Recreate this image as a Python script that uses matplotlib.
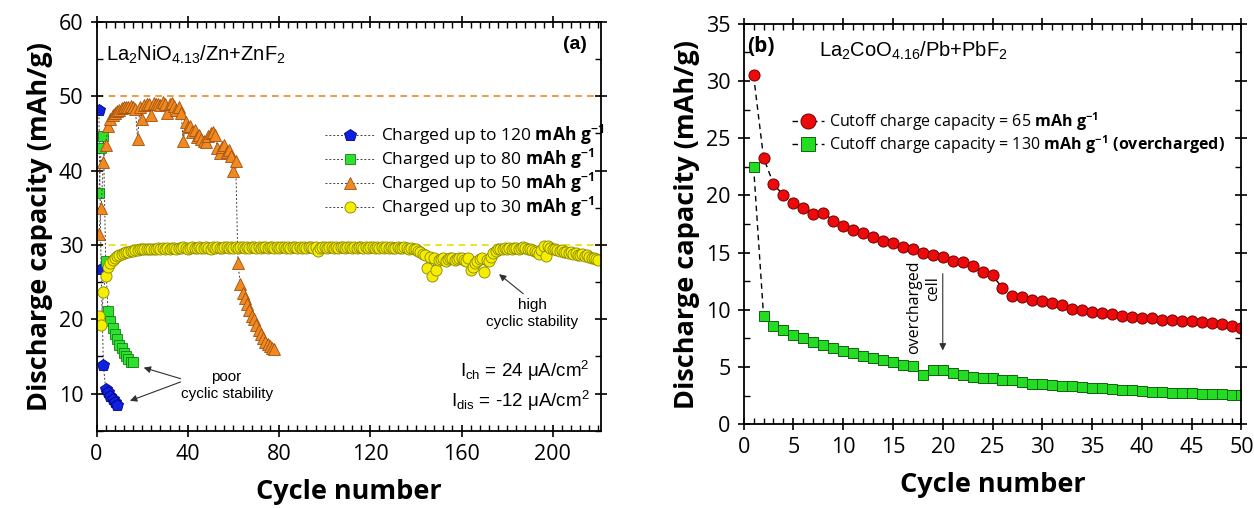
import numpy as np
import matplotlib as mpl
import matplotlib.pyplot as plt
from matplotlib.ticker import MultipleLocator

mpl.rcParams['mathtext.fontset'] = 'custom'
mpl.rcParams['mathtext.rm'] = 'Open Sans'
mpl.rcParams['mathtext.it'] = 'Open Sans:italic'
mpl.rcParams['mathtext.bf'] = 'Open Sans:bold'

# ---- panel (a): La2NiO4.13/Zn+ZnF2 ----
blue_cycle = [1, 2, 3, 4, 5, 6, 7, 8, 9]
blue_cap = [48.2, 26.8, 13.8, 10.6, 10.2, 9.7, 9.3, 8.9, 8.5]

green_cycle = list(range(1, 17))
green_cap = [37.0, 43.0, 44.6, 27.8, 21.1, 19.8, 18.8, 18.0, 17.3, 16.6,
             16.1, 15.5, 15.1, 14.7, 14.3, 14.2]

orange_cycle = list(range(1, 79))
orange_cap = [31.5, 35.0, 41.2, 43.5, 46.0, 47.0, 47.5, 47.8, 48.0, 48.2,
              48.4, 48.5, 48.6, 48.5, 48.7, 48.6, 48.3, 44.3, 48.5, 47.0,
              48.8, 49.0, 48.9, 47.5, 49.1, 48.9, 49.0, 48.8, 49.2, 49.0,
              47.8, 48.9, 49.1, 48.7, 48.2, 48.5, 47.8, 44.0, 46.5, 45.8,
              46.0, 45.2, 45.5, 44.5, 44.8, 44.2, 44.0, 43.8, 44.6, 45.0,
              45.2, 44.8, 43.0, 42.3, 43.2, 43.5, 42.5, 42.8, 42.0, 40.0,
              41.3, 27.5, 24.7, 23.5, 22.8, 22.0, 21.2, 20.5, 20.0, 19.2,
              18.6, 18.0, 17.5, 17.0, 16.7, 16.4, 16.2, 16.0]

yellow_cycle = list(range(1, 221))
yellow_cap = [20.5, 19.2, 23.7, 25.8, 27.0, 27.6, 28.0, 28.3, 28.5, 28.7,
              28.8, 28.9, 29.0, 29.1, 29.2, 29.2, 29.3, 29.3, 29.4, 29.4,
              29.4, 29.5, 29.5, 29.5, 29.4, 29.5, 29.6, 29.5, 29.6, 29.5,
              29.6, 29.5, 29.6, 29.6, 29.5, 29.6, 29.6, 29.7, 29.6, 29.5,
              29.6, 29.7, 29.6, 29.6, 29.7, 29.6, 29.6, 29.7, 29.6, 29.5,
              29.7, 29.6, 29.7, 29.6, 29.6, 29.7, 29.7, 29.6, 29.7, 29.6,
              29.7, 29.6, 29.7, 29.7, 29.6, 29.7, 29.6, 29.7, 29.7, 29.6,
              29.7, 29.6, 29.7, 29.7, 29.6, 29.7, 29.7, 29.6, 29.7, 29.6,
              29.7, 29.7, 29.6, 29.7, 29.6, 29.7, 29.7, 29.6, 29.7, 29.6,
              29.7, 29.6, 29.7, 29.7, 29.6, 29.7, 29.2, 29.6, 29.7, 29.7,
              29.6, 29.7, 29.7, 29.6, 29.7, 29.6, 29.7, 29.7, 29.6, 29.7,
              29.7, 29.6, 29.7, 29.6, 29.7, 29.7, 29.6, 29.7, 29.6, 29.7,
              29.7, 29.6, 29.7, 29.6, 29.7, 29.6, 29.7, 29.6, 29.7, 29.6,
              29.6, 29.7, 29.6, 29.6, 29.7, 29.6, 29.5, 29.6, 29.5, 29.4,
              29.2, 29.0, 28.8, 28.6, 26.9, 28.4, 25.8, 28.2, 26.6, 28.0,
              28.1, 28.2, 27.9, 28.1, 28.3, 28.2, 28.0, 28.1, 28.3, 28.2,
              28.0, 27.8, 28.2, 26.6, 27.0, 27.5, 27.9, 28.1, 28.3, 26.3,
              28.0, 27.9, 28.4, 28.9, 29.2, 29.4, 29.5, 29.4, 29.6, 29.5,
              29.6, 29.5, 29.6, 29.6, 29.5, 29.6, 29.7, 29.6, 29.5, 29.4,
              29.3, 29.2, 29.0, 28.8, 29.3, 29.8, 28.5, 29.9, 29.6, 29.5,
              29.4, 29.3, 29.2, 29.3, 29.1, 29.0, 28.9, 29.0, 28.8, 28.9,
              28.7, 28.6, 28.8, 28.5, 28.6, 28.4, 28.3, 28.2, 28.1, 28.0]

labels_a = [r'Charged up to 120 $\mathbf{mAh\ g^{-1}}$',
            r'Charged up to 80 $\mathbf{mAh\ g^{-1}}$',
            r'Charged up to 50 $\mathbf{mAh\ g^{-1}}$',
            r'Charged up to 30 $\mathbf{mAh\ g^{-1}}$']

# ---- panel (b): La2CoO4.16/Pb+PbF2 ----
cycle_b = list(range(1, 51))
red_cap = [30.5, 23.3, 21.0, 20.0, 19.3, 18.9, 18.4, 18.5, 17.8, 17.3,
           17.0, 16.7, 16.4, 16.0, 15.8, 15.5, 15.3, 15.0, 14.8, 14.6,
           14.3, 14.2, 13.8, 13.3, 13.0, 11.9, 11.2, 11.1, 10.9, 10.8,
           10.6, 10.4, 10.06, 9.98, 9.85, 9.75, 9.65, 9.5, 9.4, 9.3,
           9.25, 9.15, 9.1, 9.05, 9.05, 8.95, 8.85, 8.8, 8.6, 8.45]
green_b_cap = [22.5, 9.5, 8.6, 8.2, 7.8, 7.5, 7.2, 6.9, 6.7, 6.4,
               6.2, 6.0, 5.75, 5.6, 5.4, 5.2, 5.05, 4.3, 4.7, 4.75,
               4.5, 4.3, 4.1, 4.0, 4.0, 3.9, 3.85, 3.65, 3.55, 3.5,
               3.4, 3.35, 3.3, 3.25, 3.2, 3.15, 3.05, 3.0, 2.95, 2.9,
               2.85, 2.8, 2.7, 2.7, 2.7, 2.65, 2.6, 2.6, 2.55, 2.55]
labels_b = [r'Cutoff charge capacity = 65 $\mathbf{mAh\ g^{-1}}$',
            r'Cutoff charge capacity = 130 $\mathbf{mAh\ g^{-1}\ (overcharged)}$']


def style_axes(ax, xmajor, xminor, ymajor, yminor):
    ax.xaxis.set_major_locator(MultipleLocator(xmajor))
    ax.xaxis.set_minor_locator(MultipleLocator(xminor))
    ax.yaxis.set_major_locator(MultipleLocator(ymajor))
    ax.yaxis.set_minor_locator(MultipleLocator(yminor))
    ax.tick_params(which='major', direction='inout', length=9, width=1.2,
                   top=True, right=True, labelsize=15.5, pad=5)
    ax.tick_params(which='minor', direction='in', length=4, width=1.0,
                   top=True, right=True)
    for s in ax.spines.values():
        s.set_linewidth(1.3)
    for t in ax.get_xticklabels() + ax.get_yticklabels():
        t.set_fontfamily('Open Sans')
    ax.set_xlabel('Cycle number', fontsize=19.5, fontweight='bold',
                  family='Open Sans', labelpad=10)
    ax.set_ylabel('Discharge capacity (mAh/g)', fontsize=19.5,
                  fontweight='bold', family='Open Sans', labelpad=4)


fig = plt.figure(figsize=(12.54, 5.08), dpi=100)

# panel (a)
ax1 = fig.add_axes([0.077, 0.152, 0.402, 0.805])
ax1.axhline(50, color='#f08a20', ls=(0, (4, 3)), lw=1.2, zorder=1)
ax1.axhline(30, color='#e8e000', ls=(0, (4, 3)), lw=1.2, zorder=1)

line_kw = dict(color='#404040', ls=(0, (2, 2)), lw=0.7, markeredgewidth=0.6)
ax1.plot(blue_cycle, blue_cap, marker='p', ms=9, mfc='#1020e0', mec='#000080',
         label=labels_a[0], **line_kw)
ax1.plot(green_cycle, green_cap, marker='s', ms=7.5, mfc='#30e030', mec='#108010',
         label=labels_a[1], **line_kw)
ax1.plot(orange_cycle, orange_cap, marker='^', ms=9, mfc='#f08a20', mec='#a05010',
         label=labels_a[2], **line_kw)
ax1.plot(yellow_cycle, yellow_cap, marker='o', ms=8, mfc='#f5ee00', mec='#8a8500',
         label=labels_a[3], **line_kw)

ax1.set_xlim(0, 221)
ax1.set_ylim(5, 60)
style_axes(ax1, 40, 4, 10, 5)

leg = ax1.legend(loc='upper left', bbox_to_anchor=(0.44, 0.77), frameon=False,
                 fontsize=12.5, handlelength=2.8, labelspacing=0.0,
                 handletextpad=0.4, borderaxespad=0)
for t in leg.get_texts():
    t.set_fontfamily('Open Sans')

ax1.text(4, 55.5, r'La$\mathregular{_2}$NiO$\mathregular{_{4.13}}$/Zn+ZnF$\mathregular{_2}$',
         fontsize=14.5, family='Liberation Sans', va='center')
ax1.text(215, 57.0, '(a)', fontsize=14, fontweight='bold', family='Liberation Sans',
         ha='right', va='center')

ax1.text(57, 11.1, 'poor\ncyclic stability', fontsize=11, family='Liberation Sans',
         ha='center', va='center', linespacing=1.3)
ax1.annotate('', xy=(19.5, 13.6), xytext=(38, 11.9),
             arrowprops=dict(arrowstyle='-|>', color='#303030', lw=0.8))
ax1.annotate('', xy=(13.5, 8.9), xytext=(38, 11.7),
             arrowprops=dict(arrowstyle='-|>', color='#303030', lw=0.8))

ax1.text(191, 20.8, 'high\ncyclic stability', fontsize=11, family='Liberation Sans',
         ha='center', va='center', linespacing=1.3)
ax1.annotate('', xy=(175.5, 26.3), xytext=(188, 23.2),
             arrowprops=dict(arrowstyle='-|>', color='#303030', lw=0.8))

ax1.text(216, 13.0, r'I$\mathregular{_{ch}}$ = 24 μA/cm$\mathregular{^2}$', fontsize=13.5,
         family='Liberation Sans', ha='right', va='center')
ax1.text(216, 9.0, r'I$\mathregular{_{dis}}$ = -12 μA/cm$\mathregular{^2}$', fontsize=13.5,
         family='Liberation Sans', ha='right', va='center')

# panel (b)
ax2 = fig.add_axes([0.593, 0.165, 0.397, 0.788])
ax2.plot(cycle_b, red_cap, color='black', ls=(0, (4, 3)), lw=1.0, marker='o', ms=8,
         mfc='#ee0a0a', mec='#700000', markeredgewidth=0.7, label=labels_b[0])
ax2.plot(cycle_b, green_b_cap, color='black', ls=(0, (4, 3)), lw=1.0, marker='s', ms=7,
         mfc='#22dd22', mec='#106010', markeredgewidth=0.7, label=labels_b[1])
ax2.set_xlim(0, 50)
ax2.set_ylim(0, 35)
style_axes(ax2, 5, 1, 5, 2.5)

leg2 = ax2.legend(loc='upper left', bbox_to_anchor=(0.085, 0.80), frameon=False,
                  fontsize=11.5, handlelength=2.0, labelspacing=0.0,
                  handletextpad=0.3, borderaxespad=0, markerscale=1.35)
for t in leg2.get_texts():
    t.set_fontfamily('Open Sans')

ax2.text(0.4, 33.0, '(b)', fontsize=15, fontweight='bold', family='Open Sans',
         va='center')
ax2.text(7.6, 32.6, r'La$\mathregular{_2}$CoO$\mathregular{_{4.16}}$/Pb+PbF$\mathregular{_2}$',
         fontsize=14.5, family='Liberation Sans', va='center')

ax2.text(17.1, 10.2, 'overcharged', rotation=90, fontsize=11.5, family='Open Sans',
         ha='center', va='center')
ax2.text(19.0, 11.9, 'cell', rotation=90, fontsize=11.5, family='Open Sans',
         ha='center', va='center')
ax2.annotate('', xy=(20, 6.2), xytext=(20, 13.4),
             arrowprops=dict(arrowstyle='-|>', color='#303030', lw=0.8))

fig.savefig('out.png', dpi=100, facecolor='white')
